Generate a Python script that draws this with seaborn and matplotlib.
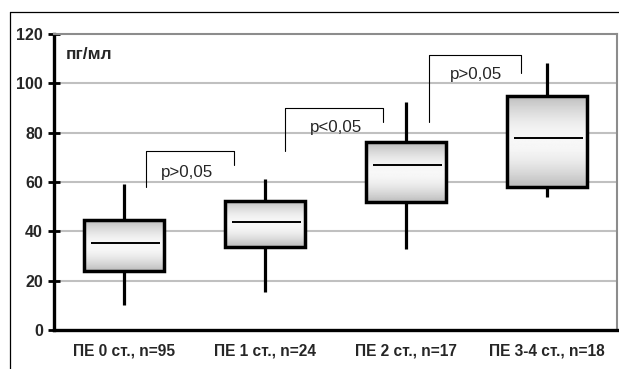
import numpy as np
import pandas as pd
import matplotlib
matplotlib.use("Agg")
import matplotlib.pyplot as plt
import seaborn as sns
from matplotlib.lines import Line2D

# ---- data ----
categories = ["ПЕ 0 ст., n=95", "ПЕ 1 ст., n=24", "ПЕ 2 ст., n=17", "ПЕ 3-4 ст., n=18"]
whisker_low = [10.0, 15.5, 32.9, 53.8]
q1 = [24.0, 33.7, 51.8, 58.1]
median = [35.3, 43.8, 66.7, 77.8]
q3 = [44.6, 52.5, 76.1, 95.0]
whisker_high = [59.0, 61.3, 92.6, 108.2]
y_ticks = [0, 20, 40, 60, 80, 100, 120]
unit_label = "пг/мл"
p_labels = ["p>0,05", "p<0,05", "p>0,05"]

# five-number summaries -> long table (boxplot with whis=inf reproduces them)
rows = []
for c, a, b, m, d, e in zip(categories, whisker_low, q1, median, q3, whisker_high):
    for v in (a, b, m, d, e):
        rows.append({"group": c, "value": v})
df = pd.DataFrame(rows)

sns.set_theme(style="white")
plt.rcParams["font.family"] = ["Liberation Sans", "DejaVu Sans"]

fig = plt.figure(figsize=(6.19, 3.69), dpi=100)
ax = fig.add_axes([54 / 619, 1 - 330 / 369, 563 / 619, 296 / 369])

sns.boxplot(data=df, x="group", y="value", order=categories, whis=np.inf,
            width=0.57, showcaps=False, color="white", linecolor="black",
            linewidth=2.0, ax=ax,
            boxprops=dict(linewidth=2.5, edgecolor="black", zorder=3),
            whiskerprops=dict(linewidth=2.3, color="black", zorder=2),
            medianprops=dict(linewidth=1.4, color="black", zorder=4))

# gradient fill in boxes (grey at top/bottom, light in the middle)
grad = (0.74 + 0.23 * np.sin(np.linspace(0, np.pi, 100)))[:, None]
for p in list(ax.patches):
    verts = p.get_path().vertices
    x0, x1 = verts[:, 0].min(), verts[:, 0].max()
    y0, y1 = verts[:, 1].min(), verts[:, 1].max()
    im = ax.imshow(grad, cmap="gray", vmin=0, vmax=1, aspect="auto",
                   extent=(x0, x1, y0, y1), zorder=2.5, interpolation="bilinear")
    im.set_clip_path(p)
    p.set_facecolor("none")
    p.set_zorder(3)

# shorten medians
for ln in ax.lines:
    xd = np.asarray(ln.get_xdata(), dtype=float)
    yd = np.asarray(ln.get_ydata(), dtype=float)
    if len(xd) == 2 and yd[0] == yd[1] and xd[0] != xd[1]:
        w = xd[1] - xd[0]
        ln.set_xdata([xd[0] + 0.09 * w, xd[1] - 0.05 * w])
        ln.set_zorder(4)

ax.set_xlim(-0.5, 3.5)
ax.set_ylim(0, 120)
ax.set_yticks(y_ticks)
ax.set_yticklabels([str(t) for t in y_ticks], fontsize=11.5, fontweight="bold")
ax.set_xticks([-0.5, 0.5, 1.5, 2.5, 3.5])
ax.set_xticklabels([])
ax.set_xticks(range(len(categories)), minor=True)
ax.set_xticklabels(categories, minor=True, fontsize=11.2, fontweight="bold")
ax.tick_params(axis="x", which="minor", length=0, pad=10)
ax.tick_params(axis="x", which="major", direction="inout", length=8, width=2, color="black")
ax.tick_params(axis="y", direction="inout", length=8, width=2, color="black", pad=4, left=True)
ax.set_xlabel("")
ax.set_ylabel("")

# grid
for t in y_ticks[1:-1]:
    ax.axhline(t, color="#c0c0c0", lw=1.5, zorder=0)
ax.spines["left"].set_linewidth(2.4)
ax.spines["left"].set_color("black")
ax.spines["bottom"].set_linewidth(2.4)
ax.spines["bottom"].set_color("black")
ax.spines["top"].set_color("#8c8c8c")
ax.spines["top"].set_linewidth(1.5)
ax.spines["right"].set_color("#8c8c8c")
ax.spines["right"].set_linewidth(1.5)
for s in ax.spines.values():
    s.set_zorder(5)

# significance brackets
brackets = [(0.152, 0.779, 72.4, 57.9, 66.9, 0.443, 64.0),
            (1.138, 1.835, 90.2, 72.6, 84.5, 1.502, 82.0),
            (2.162, 2.817, 111.3, 84.5, 104.1, 2.496, 103.4)]
for (xl, xr, yt, ybl, ybr, tx, ty), lab in zip(brackets, p_labels):
    ax.plot([xl, xl, xr, xr], [ybl, yt, yt, ybr], color="black", lw=0.8, zorder=3)
    ax.text(tx, ty, lab, ha="center", va="center", fontsize=12.2, zorder=6)

ax.text(0.021, 111.6, unit_label, transform=ax.get_yaxis_transform(),
        ha="left", va="center", fontsize=12.5, fontweight="bold")

# outer frame
fig.add_artist(Line2D([10 / 619, 10 / 619], [0, 1 - 12 / 369], color="black", lw=0.9,
                      transform=fig.transFigure))
fig.add_artist(Line2D([10 / 619, 1], [1 - 12 / 369, 1 - 12 / 369], color="black", lw=0.9,
                      transform=fig.transFigure))

fig.savefig("out.png", dpi=100)
